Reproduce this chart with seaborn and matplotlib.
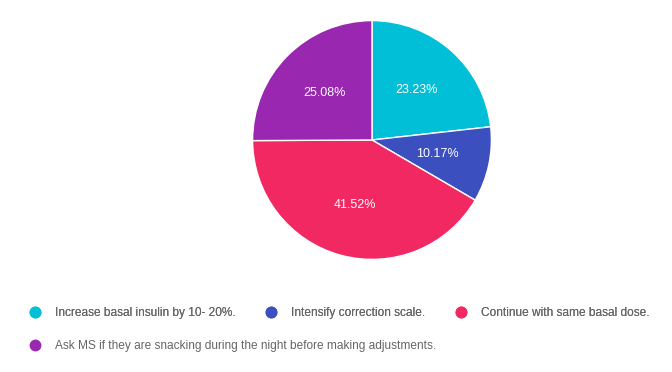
import matplotlib
matplotlib.use('Agg')
import matplotlib.pyplot as plt
from matplotlib.lines import Line2D
import seaborn as sns

labels = ['Increase basal insulin by 10- 20%.',
          'Intensify correction scale.',
          'Continue with same basal dose.',
          'Ask MS if they are snacking during the night before making adjustments.']
values = [23.23, 10.17, 41.52, 25.08]
colors = ['#02BFD8', '#3C4FBE', '#F12862', '#9A27AF']

sns.set_style('white')
plt.rcParams['font.family'] = ['Liberation Sans', 'DejaVu Sans']

fig = plt.figure(figsize=(6.72, 3.72), dpi=100)
ax = fig.add_axes([252 / 672, 1 - 260 / 372, 240 / 672, 240 / 372])

wedges, texts, autotexts = ax.pie(values, colors=colors, startangle=90, counterclock=False,
                                  autopct='%.2f%%', pctdistance=0.56,
                                  wedgeprops={'edgecolor': 'white', 'linewidth': 1},
                                  textprops={'color': 'white', 'fontsize': 9})
ax.set_xlim(-1.005, 1.005)
ax.set_ylim(-1.005, 1.005)
ax.set_aspect('equal')
ax.axis('off')

handles = [Line2D([], [], marker='o', linestyle='', markersize=7.5,
                  markerfacecolor=c, markeredgecolor=c) for c in colors]

leg1 = fig.legend(handles[:3], labels[:3], ncol=3, loc='center left',
                  bbox_to_anchor=(17 / 672, 1 - 313 / 372), frameon=False,
                  fontsize=8.6, labelcolor='#666666', handletextpad=1.1,
                  columnspacing=2.35, handlelength=1.2)
fig.add_artist(leg1)
fig.legend(handles[3:], labels[3:], loc='center left',
           bbox_to_anchor=(17 / 672, 1 - 346 / 372), frameon=False,
           fontsize=8.6, labelcolor='#666666', handletextpad=1.1, handlelength=1.2)

fig.savefig('out.png', dpi=100)
